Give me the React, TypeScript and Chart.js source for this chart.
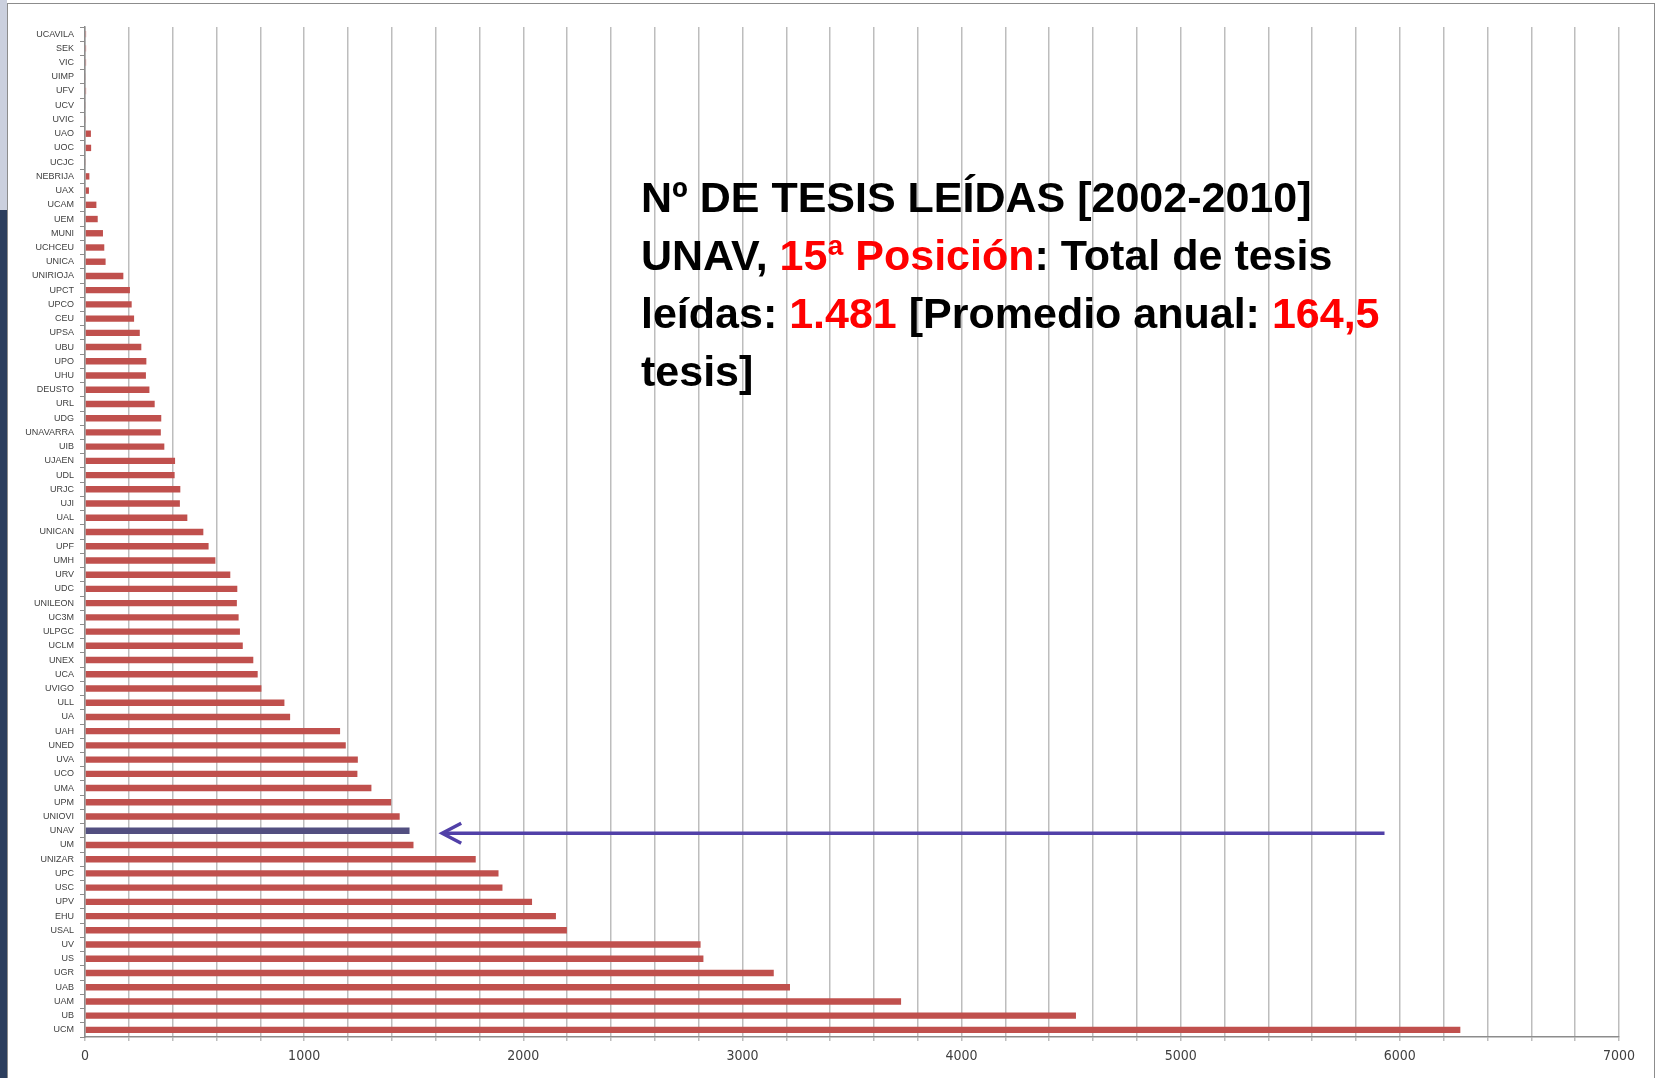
import React, { useEffect, useRef } from 'react';
import { Chart, registerables } from 'chart.js';

Chart.register(...registerables);

// Universities, top to bottom as in the chart
const universities: string[] = [
  'UCAVILA', 'SEK', 'VIC', 'UIMP', 'UFV', 'UCV', 'UVIC', 'UAO', 'UOC', 'UCJC',
  'NEBRIJA', 'UAX', 'UCAM', 'UEM', 'MUNI', 'UCHCEU', 'UNICA', 'UNIRIOJA', 'UPCT', 'UPCO',
  'CEU', 'UPSA', 'UBU', 'UPO', 'UHU', 'DEUSTO', 'URL', 'UDG', 'UNAVARRA', 'UIB',
  'UJAEN', 'UDL', 'URJC', 'UJI', 'UAL', 'UNICAN', 'UPF', 'UMH', 'URV', 'UDC',
  'UNILEON', 'UC3M', 'ULPGC', 'UCLM', 'UNEX', 'UCA', 'UVIGO', 'ULL', 'UA', 'UAH',
  'UNED', 'UVA', 'UCO', 'UMA', 'UPM', 'UNIOVI', 'UNAV', 'UM', 'UNIZAR', 'UPC',
  'USC', 'UPV', 'EHU', 'USAL', 'UV', 'US', 'UGR', 'UAB', 'UAM', 'UB', 'UCM',
];

// Number of theses read 2002-2010
const theses: number[] = [
  5, 5, 5, 3, 5, 3, 4, 27, 28, 4,
  20, 18, 52, 58, 82, 88, 94, 175, 205, 213,
  224, 250, 257, 280, 278, 294, 318, 348, 346, 362,
  411, 409, 435, 433, 467, 540, 564, 595, 663, 695,
  693, 701, 707, 720, 768, 788, 805, 910, 936, 1164,
  1190, 1245, 1243, 1307, 1397, 1436, 1481, 1499, 1783, 1887,
  1905, 2040, 2149, 2199, 2809, 2822, 3143, 3217, 3724, 4522, 6276,
];

const highlighted = 'UNAV';
const axisMin = 0;
const axisMax = 7000;
const gridStep = 200;
const labelStep = 1000;
// arrow annotation (in axis units) pointing at the highlighted bar
const arrowFrom = 5930;
const arrowTo = 1630;

const barColor = '#C0504D';
const highlightColor = '#524F80';
const arrowColor = '#5140A8';

const arrowPlugin = {
  id: 'arrowPlugin',
  afterDatasetsDraw(chart: any) {
    const xs = chart.scales.x;
    const ys = chart.scales.y;
    const idx = universities.indexOf(highlighted);
    const yy = ys.getPixelForValue(idx) + 2.5;
    const x1 = xs.getPixelForValue(arrowFrom);
    const x2 = xs.getPixelForValue(arrowTo);
    const ctx = chart.ctx;
    ctx.save();
    ctx.strokeStyle = arrowColor;
    ctx.lineWidth = 3.5;
    ctx.lineCap = 'butt';
    ctx.beginPath();
    ctx.moveTo(x1, yy);
    ctx.lineTo(x2 + 2, yy);
    ctx.stroke();
    ctx.lineJoin = 'miter';
    ctx.beginPath();
    ctx.moveTo(x2 + 19, yy - 10);
    ctx.lineTo(x2, yy);
    ctx.lineTo(x2 + 19, yy + 10);
    ctx.stroke();
    ctx.restore();
  },
};

export default function App() {
  const canvasRef = useRef<HTMLCanvasElement | null>(null);

  useEffect(() => {
    if (!canvasRef.current) return;
    const chart = new Chart(canvasRef.current, {
      type: 'bar',
      data: {
        labels: universities,
        datasets: [
          {
            data: theses,
            backgroundColor: universities.map((u) => (u === highlighted ? highlightColor : barColor)),
            borderWidth: 0,
            barPercentage: 0.45,
            categoryPercentage: 1,
          },
        ],
      },
      options: {
        indexAxis: 'y',
        responsive: false,
        animation: false,
        maintainAspectRatio: false,
        layout: { padding: { top: 27, right: 41, bottom: 11, left: 0 } },
        plugins: {
          legend: { display: false },
          tooltip: { enabled: false },
          title: { display: false },
        },
        scales: {
          x: {
            type: 'linear',
            min: axisMin,
            max: axisMax,
            afterFit: (scale: any) => {
              scale.height = 30;
            },
            ticks: {
              stepSize: gridStep,
              autoSkip: false,
              maxRotation: 0,
              padding: 7,
              color: '#404040',
              font: { family: "'Liberation Sans Narrow', 'DejaVu Sans Condensed', 'Liberation Sans', sans-serif", size: 14 },
              callback: (v: any) => (Number(v) % labelStep === 0 ? String(v) : ''),
            },
            grid: {
              color: '#BDBDBD',
              lineWidth: 1.5,
              tickLength: 4,
              drawTicks: true,
            },
            border: { display: true, color: '#8C8C8C', width: 1.5 },
          },
          y: {
            type: 'category',
            afterFit: (scale: any) => {
              scale.width = 85;
            },
            ticks: {
              autoSkip: false,
              padding: 6,
              color: '#404040',
              font: { family: "'Liberation Sans', Arial, sans-serif", size: 9 },
            },
            grid: {
              display: true,
              drawOnChartArea: false,
              offset: true,
              tickLength: 5,
              color: '#8C8C8C',
            },
            border: { display: true, color: '#8C8C8C', width: 1.5 },
          },
        },
      },
      plugins: [arrowPlugin],
    } as any);
    return () => chart.destroy();
  }, []);

  const red = { color: '#FF0000' };

  return (
    <div
      style={{
        position: 'fixed',
        left: 0,
        top: 0,
        width: 1660,
        height: 1078,
        background: '#FFFFFF',
        overflow: 'hidden',
      }}
    >
      <div style={{ position: 'absolute', left: 0, top: 0, width: 7, height: 210, background: '#CBD0DE' }} />
      <div style={{ position: 'absolute', left: 0, top: 210, width: 7, height: 868, background: '#2C3E5D' }} />
      <div
        style={{
          position: 'absolute',
          left: 7,
          top: 3,
          width: 1646,
          height: 1100,
          border: '1.5px solid #8C8C8C',
        }}
      />
      <canvas
        ref={canvasRef}
        width={1660}
        height={1078}
        style={{ position: 'absolute', left: 0, top: 0, width: 1660, height: 1078 }}
      />
      <div
        style={{
          position: 'absolute',
          left: 641,
          top: 168,
          fontFamily: "'Liberation Sans', Arial, sans-serif",
          fontWeight: 'bold',
          fontSize: 43,
          lineHeight: '58px',
          color: '#000000',
          whiteSpace: 'nowrap',
        }}
      >
        <div>Nº DE TESIS LEÍDAS [2002-2010]</div>
        <div>
          UNAV, <span style={red}>15ª Posición</span>: Total de tesis
        </div>
        <div>
          leídas: <span style={red}>1.481</span> [Promedio anual: <span style={red}>164,5</span>
        </div>
        <div>tesis]</div>
      </div>
    </div>
  );
}
